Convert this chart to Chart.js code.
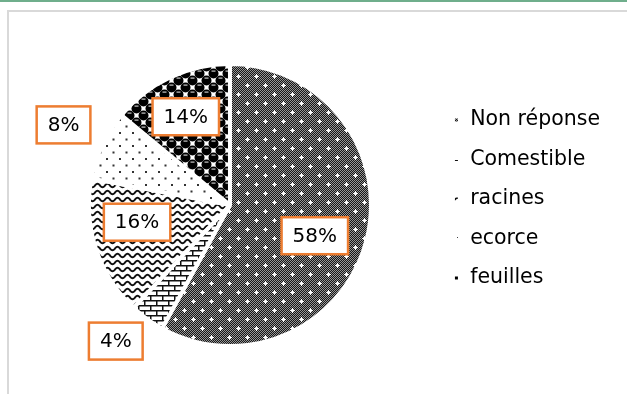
<!DOCTYPE html>
<html>
<head>
<meta charset="utf-8">
<script src="https://cdn.jsdelivr.net/npm/chart.js@4.4.1/dist/chart.umd.min.js"></script>
<style>
  html, body { margin: 0; padding: 0; background: #fff; }
  body { width: 627px; height: 394px; position: relative; overflow: hidden; }
  #topline { position: absolute; left: 0; top: 0; width: 627px; height: 2px; background: #6fae8c; }
  #frame { position: absolute; left: 7px; top: 10px; width: 700px; height: 500px;
           border-left: 2px solid #d9d9d9; border-top: 2px solid #d9d9d9; }
  #wrap { position: absolute; left: 0; top: 0; width: 627px; height: 394px; }
</style>
</head>
<body>
<div id="topline"></div>
<div id="frame"></div>
<div id="wrap"><canvas id="pie"></canvas></div>
<script>
// Répartition des réponses (%)
const categories = ['Non réponse', 'Comestible', 'racines', 'ecorce', 'feuilles'];
const shares = [58, 4, 16, 8, 14];

// Where each percentage box sits: fraction of the radius along the slice's mid-angle,
// plus a small angular nudge (degrees)
const labelPlacement = [
  { r: 0.64, turn: 5.5 },
  { r: 1.26, turn: 4 },
  { r: 0.67, turn: 7.5 },
  { r: 1.31, turn: 0.5 },
  { r: 0.70, turn: -1.4 }
];

function makePattern(w, h, draw) {
  const c = document.createElement('canvas');
  c.width = w; c.height = h;
  const g = c.getContext('2d');
  g.fillStyle = '#fff';
  g.fillRect(0, 0, w, h);
  draw(g, w, h);
  return g.createPattern(c, 'repeat');
}

// fine grey checker with small white crosses
const dottedGrid = makePattern(18, 18, (g, w, h) => {
  for (let y = 0; y < h; y++) {
    for (let x = 0; x < w; x++) {
      g.fillStyle = (x + y) % 2 ? '#161616' : '#969696';
      g.fillRect(x, y, 1, 1);
    }
  }
  [[4, 4], [13, 13]].forEach(([cx, cy]) => {
    g.fillStyle = '#d8d8d8';
    g.fillRect(cx - 1, cy - 1, 3, 3);
    g.fillStyle = '#fff';
    g.fillRect(cx - 2, cy, 5, 1);
    g.fillRect(cx, cy - 2, 1, 5);
  });
});

// brick lines
const bricks = makePattern(12, 10, (g) => {
  g.fillStyle = '#111';
  g.fillRect(0, 0, 12, 1.5);
  g.fillRect(0, 5, 12, 1.5);
  g.fillRect(0, 0, 1.5, 5);
  g.fillRect(6, 5, 1.5, 5);
});

// wavy lines
const waves = makePattern(10, 7, (g) => {
  g.strokeStyle = '#111';
  g.lineWidth = 1.9;
  g.beginPath();
  for (let x = -1; x <= 11; x += 0.5) {
    const y = 3.5 + 1.8 * Math.sin((2 * Math.PI * x) / 10);
    if (x === -1) g.moveTo(x, y); else g.lineTo(x, y);
  }
  g.stroke();
});

// sparse dots
const dots = makePattern(13, 13, (g) => {
  g.fillStyle = '#333';
  g.fillRect(2, 2, 2, 2);
  g.fillRect(8.5, 8.5, 2, 2);
});

// shaded spheres on a checker
const spheres = makePattern(14, 14, (g) => {
  const centres = [[3.5, 3.5], [10.5, 10.5], [-3.5, 10.5], [17.5, 3.5], [3.5, 17.5], [10.5, -3.5], [17.5, 17.5], [-3.5, -3.5]];
  g.fillStyle = '#000';
  centres.forEach(([cx, cy]) => {
    g.beginPath();
    g.arc(cx, cy, 5, 0, Math.PI * 2);
    g.fill();
  });
  g.fillStyle = '#c8c8c8';
  [[3.5, 3.5], [10.5, 10.5]].forEach(([cx, cy]) => {
    g.fillRect(cx - 2, cy - 3, 4, 1.2);
  });
});

const fills = [dottedGrid, bricks, waves, dots, spheres];

const valueBoxes = {
  id: 'valueBoxes',
  afterDatasetsDraw(chart) {
    const ctx = chart.ctx;
    const meta = chart.getDatasetMeta(0);
    const values = chart.data.datasets[0].data;
    ctx.save();
    ctx.font = '20px "DejaVu Sans"';
    ctx.textAlign = 'center';
    ctx.textBaseline = 'middle';
    meta.data.forEach((arc, i) => {
      const { x, y, startAngle, endAngle, outerRadius } = arc.getProps(['x', 'y', 'startAngle', 'endAngle', 'outerRadius'], true);
      const place = labelPlacement[i];
      const mid = (startAngle + endAngle) / 2 + place.turn * Math.PI / 180;
      const px = x + Math.cos(mid) * outerRadius * place.r;
      const py = y + Math.sin(mid) * outerRadius * place.r;
      const text = values[i] + '%';
      const tw = ctx.measureText(text).width;
      const bw = tw + 22, bh = 37;
      ctx.fillStyle = '#fff';
      ctx.fillRect(px - bw / 2, py - bh / 2, bw, bh);
      ctx.strokeStyle = '#ed7d31';
      ctx.lineWidth = 2.5;
      ctx.strokeRect(px - bw / 2, py - bh / 2, bw, bh);
      ctx.fillStyle = '#000';
      ctx.fillText(text, px, py + 1);
    });
    ctx.restore();
  }
};

new Chart(document.getElementById('pie'), {
  type: 'pie',
  data: {
    labels: categories,
    datasets: [{
      data: shares,
      backgroundColor: fills,
      borderColor: '#fff',
      borderWidth: 4,
      radius: 141,
      clip: false
    }]
  },
  options: {
    responsive: true,
    maintainAspectRatio: false,
    animation: false,
    layout: { padding: { left: 26, right: 17, top: 16, bottom: 0 } },
    plugins: {
      tooltip: { enabled: false },
      legend: {
        position: 'right',
        align: 'start',
        // empty title block: keeps the list lower than the top of the plot
        title: {
          display: true,
          text: ' ',
          color: 'rgba(0,0,0,0)',
          font: { size: 10 },
          padding: { top: 62.75, bottom: 0 }
        },
        labels: {
          boxWidth: 7,
          boxHeight: 7,
          padding: 19,
          color: '#000',
          font: { family: 'DejaVu Sans', size: 20.5 }
        }
      }
    }
  },
  plugins: [valueBoxes]
});
</script>
</body>
</html>
